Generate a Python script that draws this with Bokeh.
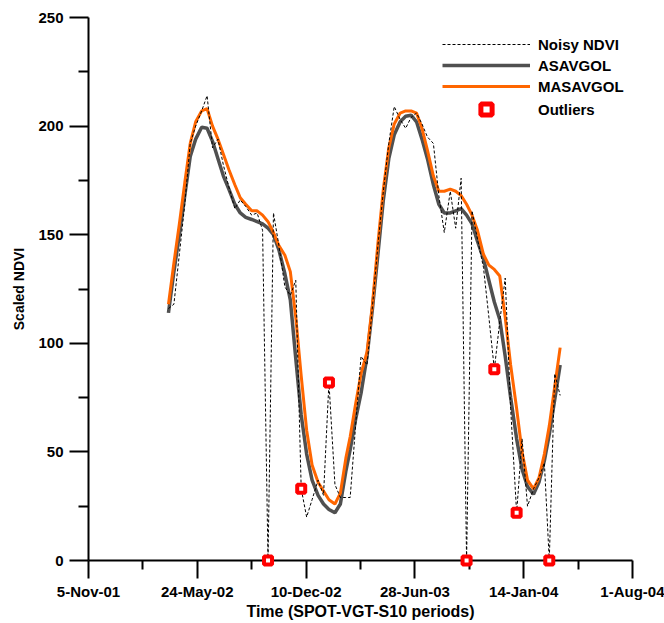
import datetime as dt
from bokeh.plotting import figure
from bokeh.models import Range1d, FixedTicker, Legend, LegendItem, ColumnDataSource
from bokeh.embed import file_html
from bokeh.resources import INLINE

# ---------------- data ----------------
origin_label = "5-Nov-01"
tick_labels = ["5-Nov-01", "24-May-02", "10-Dec-02", "28-Jun-03", "14-Jan-04", "1-Aug-04"]

# SPOT-VGT S10 dekads (1st, 11th, 21st of each month), Apr-2002 .. Mar-2004
months = [(2002, m) for m in range(4, 13)] + [(2003, m) for m in range(1, 13)] + [(2004, m) for m in range(1, 4)]
dekad_days = [1, 11, 21]

noisy = [116, 118, 141, 164, 192, 200, 207, 214, 190,
         194, 182, 172, 162, 166, 163, 159, 160, 152,
         0, 160, 145, 126, 122, 129, 33, 20, 28,
         37, 30, 82, 35, 29, 29, 29, 62, 94,
         90, 117, 145, 170, 192, 209, 203, 199, 204,
         206, 201, 195, 192, 168, 151, 170, 153, 176,
         0, 161, 148, 135, 112, 88, 110, 130, 70,
         22, 56, 25, 33, 38, 45, 0, 86, 76]

asavgol = [114, 133, 150, 168, 186, 194, 199.5, 199, 193,
           185, 177, 171, 164, 160, 158, 157, 156, 155,
           153, 150, 143, 132, 120, 93, 67, 49, 37,
           30, 26, 23.5, 22, 26, 41, 51, 65, 77,
           94, 116, 141, 166, 185, 196, 202, 204.5, 205,
           202, 194, 185, 173, 164, 160, 160, 161, 162,
           159, 155, 147, 139, 129, 119, 111, 94, 75,
           56, 42, 34, 30.5, 36, 46, 58, 74, 90]

masavgol = [118, 137, 155, 174, 192, 202, 207, 208, 200,
            194, 187, 180, 173, 167, 164, 161, 161, 159,
            156, 151, 145, 140.5, 133, 112, 85, 60, 44,
            36, 32, 28, 26, 31, 47, 57, 72, 86,
            96, 118, 146, 171, 190, 201, 206, 207, 207,
            206, 199, 189, 177, 170, 170, 171, 170, 168,
            164, 159, 152, 141, 136, 134, 131, 112, 90,
            70, 50, 37, 33, 38, 49, 62, 80, 98]

outlier_dates = ["2002-10-01", "2002-12-01", "2003-01-21", "2003-10-01",
                 "2003-11-21", "2004-01-01", "2004-03-01"]

# ---------------- derived ----------------
origin = dt.datetime.strptime(origin_label, "%d-%b-%y").date()
dates = [dt.date(y, m, d) for (y, m) in months for d in dekad_days]
x = [(d - origin).days for d in dates]

tick_pos = [(dt.datetime.strptime(t, "%d-%b-%y").date() - origin).days for t in tick_labels]
minor_pos = [(a + b) / 2 for a, b in zip(tick_pos[:-1], tick_pos[1:])]

out_idx = [dates.index(dt.date.fromisoformat(s)) for s in outlier_dates]
ox = [x[i] for i in out_idx]
oy = [noisy[i] for i in out_idx]

src = ColumnDataSource(dict(x=x, noisy=noisy, asav=asavgol, masav=masavgol))
osrc = ColumnDataSource(dict(x=ox, y=oy))

FONT = "Liberation Sans"

p = figure(width=664, height=623,
           x_range=Range1d(tick_pos[0], tick_pos[-1]), y_range=Range1d(0, 250),
           output_backend="svg", toolbar_location=None,
           min_border_left=88, min_border_right=32, min_border_top=17, min_border_bottom=63)

p.outline_line_color = None
p.xgrid.visible = False
p.ygrid.visible = False
p.background_fill_color = "white"
p.border_fill_color = "white"

r_asav = p.line("x", "asav", source=src, line_color="#505050", line_width=3.5)
r_masav = p.line("x", "masav", source=src, line_color="#FF6600", line_width=3)
r_noisy = p.line("x", "noisy", source=src, line_color="black", line_width=1, line_dash="3 2")
r_out = p.scatter("x", "y", source=osrc, marker="square", size=8,
                  fill_color="white", line_color="#FF0000", line_width=4, level="overlay")
# legend-only sample for the outlier marker (larger, as in the original legend);
# its single point lies outside the visible ranges
r_out_leg = p.scatter(x=[-500], y=[-500], marker="square", size=11,
                      fill_color="white", line_color="#FF0000", line_width=5)

# axes
xa = p.xaxis[0]
xa.ticker = FixedTicker(ticks=tick_pos, minor_ticks=minor_pos)
xa.major_label_overrides = {t: l for t, l in zip(tick_pos, tick_labels)}
xa.axis_label = "Time (SPOT-VGT-S10 periods)"

ya = p.yaxis[0]
ya.ticker = FixedTicker(ticks=[0, 50, 100, 150, 200, 250], minor_ticks=[25, 75, 125, 175, 225])
ya.axis_label = "Scaled NDVI"

for ax, tout, mout in ((xa, 18, 9), (ya, 19, 10)):
    ax.axis_line_color = "black"
    ax.axis_line_width = 2
    ax.major_tick_line_width = 2
    ax.minor_tick_line_width = 2
    ax.major_tick_in = 0
    ax.minor_tick_in = 0
    ax.major_tick_out = tout
    ax.minor_tick_out = mout
    ax.major_label_text_font = FONT
    ax.major_label_text_font_style = "bold"
    ax.major_label_text_font_size = "15px"
    ax.major_label_text_color = "black"
    ax.axis_label_text_font = FONT
    ax.axis_label_text_font_style = "bold"
    ax.axis_label_text_font_size = "16px"
    ax.axis_label_text_color = "black"

xa.major_label_standoff = 4
xa.axis_label_standoff = 0
ya.major_label_standoff = 6
ya.axis_label_standoff = 8
ya.axis_label_text_font_size = "14px"

legend = Legend(items=[LegendItem(label="Noisy NDVI", renderers=[r_noisy]),
                       LegendItem(label="ASAVGOL", renderers=[r_asav]),
                       LegendItem(label="MASAVGOL", renderers=[r_masav])],
                location=(354, 464), orientation="vertical",
                glyph_width=88, glyph_height=20, spacing=1, padding=0, margin=0,
                label_standoff=8, border_line_color=None, background_fill_alpha=0,
                label_text_font=FONT, label_text_font_style="bold",
                label_text_font_size="15px", label_text_color="black")
legend2 = Legend(items=[LegendItem(label="Outliers", renderers=[r_out_leg])],
                 location=(354, 437), orientation="vertical",
                 glyph_width=88, glyph_height=28, spacing=0, padding=0, margin=0,
                 label_standoff=8, border_line_color=None, background_fill_alpha=0,
                 label_text_font=FONT, label_text_font_style="bold",
                 label_text_font_size="15px", label_text_color="black")
p.add_layout(legend)
p.add_layout(legend2)

open("out.html", "w").write(file_html(p, INLINE))
